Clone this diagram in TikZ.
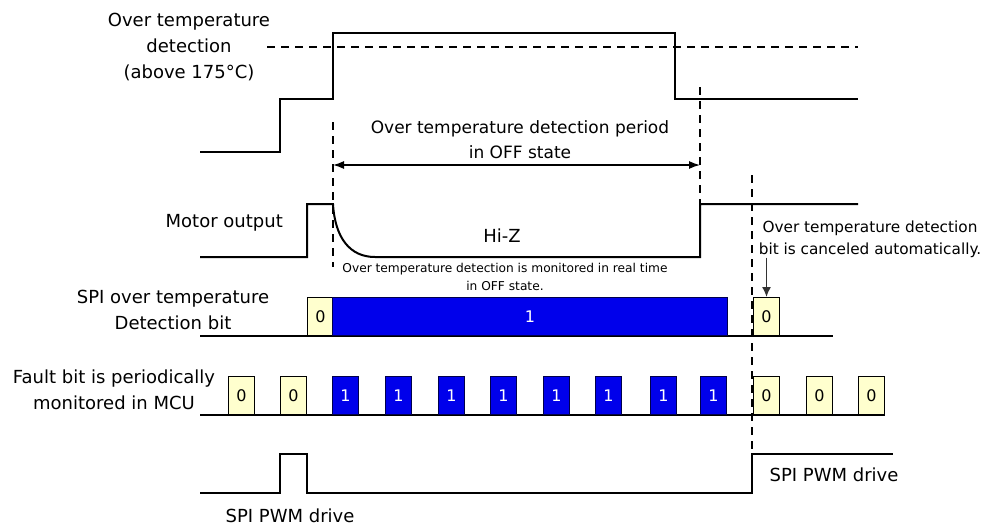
\documentclass[tikz,border=0pt]{standalone}
\usepackage{fontspec}
\setmainfont{DejaVu Sans}
\usetikzlibrary{arrows.meta}
\definecolor{bitblue}{RGB}{0,0,235}
\definecolor{bitcream}{RGB}{255,255,206}
\tikzset{
  wave/.style={line width=2pt, line join=miter},
  thresh/.style={line width=1.3pt, dash pattern=on 8pt off 6pt},
  guide/.style={line width=1.3pt, dash pattern=on 8pt off 6pt},
  lbl/.style={font=\fontsize{18}{26}\selectfont, align=center, inner sep=0pt},
  midlbl/.style={font=\fontsize{17}{25}\selectfont, align=center, inner sep=0pt},
  smalllbl/.style={font=\fontsize{12.2}{18}\selectfont, align=center, inner sep=0pt},
  annlbl/.style={font=\fontsize{15.3}{22}\selectfont, align=center, inner sep=0pt},
  zbit/.style={draw=black, line width=1pt, fill=bitcream, minimum width=26pt, minimum height=38pt, inner sep=0pt, anchor=south west, font=\fontsize{16}{16}\selectfont},
  obit/.style={draw=black!70!blue, line width=1pt, fill=bitblue, text=white, minimum width=26pt, minimum height=38pt, inner sep=0pt, anchor=south west, font=\fontsize{16}{16}\selectfont},
  dimarrow/.style={line width=1.3pt, {Latex[length=11pt,width=8pt]}-{Latex[length=11pt,width=8pt]}},
  ptrarrow/.style={line width=1.5pt, -{Latex[length=10pt,width=9pt]}, black!80}
}
\begin{document}
\begin{tikzpicture}[x=1pt,y=-1pt]
\useasboundingbox (0,0) rectangle (984,528);

% ---------- top: temperature ----------
\node[lbl] (tlabel) at (189,47) {Over temperature\\detection\\(above 175°C)};
\draw[thresh] (267,47) -- (858,47);
\draw[wave] (200,152) -- (280,152) -- (280,99) -- (333,99) -- (333,33) -- (675,33) -- (675,99) -- (858,99);

% ---------- guides ----------
\coordinate (g1t) at (333,122);
\coordinate (g1b) at (333,267);
\coordinate (g2t) at (700,87);
\coordinate (g2b) at (700,204);
\coordinate (g3t) at (752,175);
\coordinate (g3b) at (752,454);
\draw[guide] (g1t) -- (g1b);
\draw[guide] (g2t) -- (g2b);
\draw[guide] (g3t) -- (g3b);

% ---------- period arrow ----------
\node[midlbl] (plabel) at (520,140) {Over temperature detection period\\in OFF state};
\coordinate (pL) at (333,165);
\coordinate (pR) at (700,165);
\draw[dimarrow] (pL) -- (pR);

% ---------- motor output ----------
\node[lbl, anchor=east] (mlabel) at (283,223) {Motor output};
\draw[wave] (200,257) -- (307,257) -- (307,204) -- (333,204)
  .. controls (335,238) and (350,257) .. (375,257) -- (700,257) -- (700,204) -- (858,204);
\node[lbl] (hiz) at (502,236) {Hi-Z};
\node[smalllbl] (mon) at (505,277) {Over temperature detection is monitored in real time\\in OFF state.};

% ---------- SPI over temperature detection bit ----------
\node[lbl] (slabel) at (173,310) {SPI over temperature\\Detection bit};
\draw[wave] (200,336) -- (833,336);
\node[zbit] (sb1) at (307,336) {0};
\node[obit, minimum width=395pt] (sbig) at (332,336) {1};
\node[zbit] (sb2) at (753,336) {0};
\node[annlbl] (ann) at (870,239) {Over temperature detection\\bit is canceled automatically.};
\draw[ptrarrow] (sb2.north |- ann.south) -- (sb2.north);

% ---------- fault bit ----------
\node[lbl] (flabel) at (114,390) {Fault bit is periodically\\monitored in MCU};
\draw[wave] (200,415) -- (885,415);
\node[zbit] (f1) at (228,415) {0};
\node[zbit] (f2) at (280,415) {0};
\node[obit] (f3) at (332,415) {1};
\node[obit] (f4) at (385,415) {1};
\node[obit] (f5) at (438,415) {1};
\node[obit] (f6) at (490,415) {1};
\node[obit] (f7) at (543,415) {1};
\node[obit] (f8) at (595,415) {1};
\node[obit] (f9) at (650,415) {1};
\node[obit] (f10) at (700,415) {1};
\node[zbit] (f11) at (753,415) {0};
\node[zbit] (f12) at (806,415) {0};
\node[zbit] (f13) at (858,415) {0};

% ---------- SPI PWM drive ----------
\draw[wave] (200,493) -- (280,493) -- (280,454) -- (307,454) -- (307,493) -- (752,493) -- (752,454) -- (893,454);
\node[lbl] (pwm1) at (290,516) {SPI PWM drive};
\node[lbl] (pwm2) at (834,475) {SPI PWM drive};
\end{tikzpicture}
\end{document}
